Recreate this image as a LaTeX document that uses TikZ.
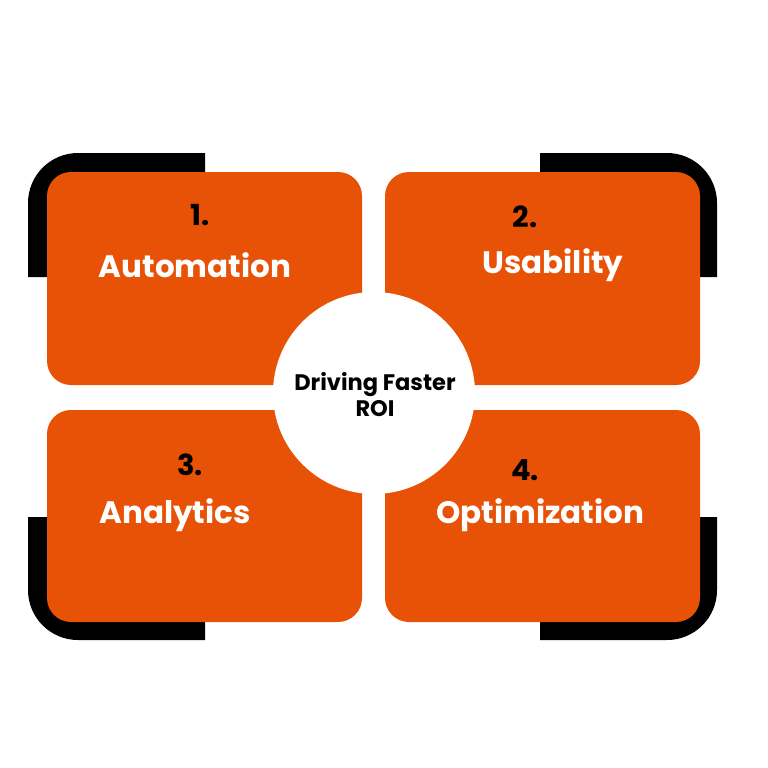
\documentclass[tikz,border=0pt]{standalone}
\usepackage{fontspec}
\setmainfont{Poppins}
\begin{document}
\begin{tikzpicture}[x=1pt,y=-1pt,
  box/.style={fill=orng,rounded corners=24pt},
  lbl/.style={text=white,font=\fontsize{31}{34}\selectfont\bfseries},
  num/.style={text=black,font=\fontsize{29}{32}\selectfont\bfseries}]
\definecolor{orng}{HTML}{E85206}
\useasboundingbox (0,0) rectangle (768,768);
% black brackets
\fill[black] (28,277) [rounded corners=50pt] -- (28,153) [sharp corners] -- (205,153) -- (205,277) -- cycle;
\fill[black] (717,277) [rounded corners=50pt] -- (717,153) [sharp corners] -- (540,153) -- (540,277) -- cycle;
\fill[black] (28,517) [rounded corners=50pt] -- (28,640) [sharp corners] -- (205,640) -- (205,517) -- cycle;
\fill[black] (717,517) [rounded corners=50pt] -- (717,640) [sharp corners] -- (540,640) -- (540,517) -- cycle;
% boxes
\fill[box] (47,172) rectangle (362,385);
\fill[box] (385,172) rectangle (700,385);
\fill[box] (47,410) rectangle (362,622);
\fill[box] (385,410) rectangle (700,622);
\node[circle,fill=white,minimum size=202pt,inner sep=0] (c) at (374,393) {};
\node[num] (n1) at (200,215) {1.};
\node[lbl] (t1) at (195,265) {Automation};
\node[num] (n2) at (525,217) {2.};
\node[lbl] (t2) at (553,265) {Usability};
\node[num] (n3) at (190,465) {3.};
\node[lbl] (t3) at (175,515) {Analytics};
\node[num] (n4) at (525,470) {4.};
\node[lbl] (t4) at (540,515) {Optimization};
\node[font=\fontsize{22.5}{26}\selectfont\bfseries,align=center] (ct) at (375,395) {Driving Faster\\ROI};
\end{tikzpicture}
\end{document}
